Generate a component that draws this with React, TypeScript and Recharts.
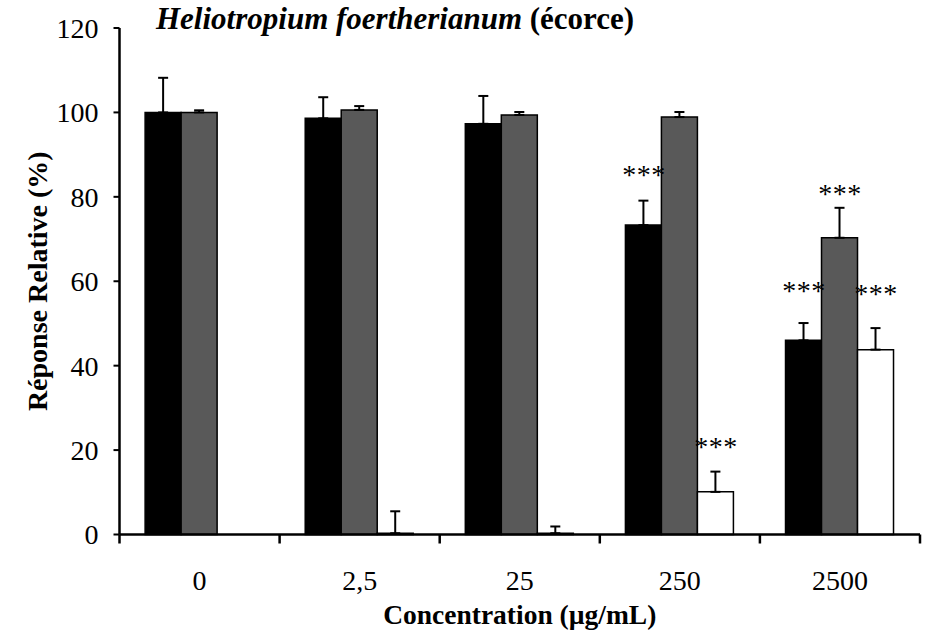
import React from "react";
import {
  BarChart,
  Bar,
  XAxis,
  YAxis,
  ErrorBar,
  LabelList,
} from "recharts";

// Données
const categories = ["0", "2,5", "25", "250", "2500"];
const blackValues = [100, 98.6, 97.3, 73.3, 46.0];
const blackErrors = [8.2, 5.0, 6.6, 5.8, 4.1];
const grayValues = [100, 100.6, 99.4, 98.9, 70.3];
const grayErrors = [0.5, 0.9, 0.7, 1.2, 7.1];
const whiteValues = [null, 0.3, 0.3, 10.1, 43.8];
const whiteErrors = [null, 5.2, 1.6, 4.8, 5.1];

// Significativité (***) et hauteur du texte en unités de l'axe Y
const blackStars = ["", "", "", "***", "***"];
const blackStarLevels = [null, null, null, 86.6, 59.3];
const grayStars = ["", "", "", "", "***"];
const grayStarLevels = [null, null, null, null, 82.3];
const whiteStars = ["", "", "", "***", "***"];
const whiteStarLevels = [null, null, null, 22.2, 58.5];

const yTicks = [0, 20, 40, 60, 80, 100, 120];

const WIDTH = 926;
const HEIGHT = 633;
const MARGIN = { top: 28, right: 6, left: 0, bottom: 0 };
const Y_AXIS_W = 119.5;
const X_AXIS_H = 98.5;
const BAND = (WIDTH - MARGIN.right - Y_AXIS_W) / categories.length;
const FONT = '"Liberation Serif", "Times New Roman", serif';
const STAR_SIZE = 28;

const data = categories.map((name, i) => ({
  name,
  black: blackValues[i],
  blackErr: [0, blackErrors[i]],
  gray: grayValues[i],
  grayErr: [0, grayErrors[i]],
  white: whiteValues[i],
  whiteErr: whiteErrors[i] == null ? null : [0, whiteErrors[i]],
}));

// Ticks aux limites des catégories, étiquette au centre
function XTick(props: any) {
  const { x, y, payload, index } = props;
  const left = x - BAND / 2;
  const right = x + BAND / 2;
  return (
    <g>
      <line x1={left} y1={y} x2={left} y2={y + 9} stroke="#000" strokeWidth={2.5} />
      {index === categories.length - 1 && (
        <line x1={right} y1={y} x2={right} y2={y + 9} stroke="#000" strokeWidth={2.5} />
      )}
      <text
        x={x}
        y={y + 55}
        textAnchor="middle"
        fontFamily={FONT}
        fontSize={28}
        fill="#000"
      >
        {payload.value}
      </text>
    </g>
  );
}

function starsRenderer(stars: string[], levels: (number | null)[], values: (number | null)[]) {
  return (props: any) => {
    // la valeur du label est le nom de la catégorie
    const index = categories.indexOf(String(props.value));
    if (index < 0 || !stars[index]) return null;
    const vb = props.viewBox || props;
    const { x, y, width, height } = vb;
    const v = values[index] as number;
    const lvl = levels[index] as number;
    const base = y + height;
    const pxPerUnit = height / v;
    const cy = base - lvl * pxPerUnit;
    return (
      <text
        x={x + width / 2 + 0.5}
        y={cy + STAR_SIZE * 0.55}
        textAnchor="middle"
        fontFamily={FONT}
        fontSize={STAR_SIZE}
        letterSpacing={0.5}
        fill="#000"
      >
        {stars[index]}
      </text>
    );
  };
}

export default function App() {
  return (
    <div
      style={{
        position: "absolute",
        left: 0,
        top: 0,
        width: WIDTH,
        height: HEIGHT,
        background: "#fff",
        fontFamily: FONT,
      }}
    >
      <div
        style={{
          position: "absolute",
          left: 156,
          top: 4,
          fontSize: 31,
          lineHeight: "30px",
          fontWeight: 700,
          color: "#000",
          whiteSpace: "nowrap",
          zIndex: 2,
        }}
      >
        <i>Heliotropium foertherianum</i> (écorce)
      </div>
      <BarChart
        width={WIDTH}
        height={HEIGHT}
        data={data}
        margin={MARGIN}
        barGap={0}
        barCategoryGap="16%"
      >
        <XAxis
          dataKey="name"
          height={X_AXIS_H}
          tickLine={false}
          tickSize={0}
          tickMargin={0}
          axisLine={{ stroke: "#000", strokeWidth: 2.5 }}
          tick={<XTick />}
          interval={0}
          label={{
            value: "Concentration (µg/mL)",
            position: "insideBottom",
            offset: 9,
            style: { fontFamily: FONT, fontSize: 27.5, fontWeight: 700, fill: "#000" },
          }}
        />
        <YAxis
          width={Y_AXIS_W}
          domain={[0, 120]}
          ticks={yTicks}
          interval={0}
          tickSize={6}
          tickMargin={15}
          tickLine={{ stroke: "#000", strokeWidth: 2 }}
          axisLine={{ stroke: "#000", strokeWidth: 2.5 }}
          tick={{ fontFamily: FONT, fontSize: 28, fill: "#000" }}
          label={{
            value: "Réponse Relative (%)",
            angle: -90,
            position: "insideLeft",
            offset: 37,
            style: {
              fontFamily: FONT,
              fontSize: 28,
              fontWeight: 700,
              fill: "#000",
              textAnchor: "middle",
            },
          }}
        />
        <Bar dataKey="black" fill="#000" stroke="#000" strokeWidth={1.5} isAnimationActive={false}>
          <ErrorBar dataKey="blackErr" direction="y" width={5} stroke="#000" strokeWidth={2} />
          <LabelList dataKey="name" content={starsRenderer(blackStars, blackStarLevels, blackValues)} />
        </Bar>
        <Bar dataKey="gray" fill="#595959" stroke="#000" strokeWidth={1.5} isAnimationActive={false}>
          <ErrorBar dataKey="grayErr" direction="y" width={5} stroke="#000" strokeWidth={2} />
          <LabelList dataKey="name" content={starsRenderer(grayStars, grayStarLevels, grayValues)} />
        </Bar>
        <Bar dataKey="white" fill="#fff" stroke="#000" strokeWidth={1.5} isAnimationActive={false}>
          <ErrorBar dataKey="whiteErr" direction="y" width={5} stroke="#000" strokeWidth={2} />
          <LabelList dataKey="name" content={starsRenderer(whiteStars, whiteStarLevels, whiteValues)} />
        </Bar>
      </BarChart>
    </div>
  );
}
